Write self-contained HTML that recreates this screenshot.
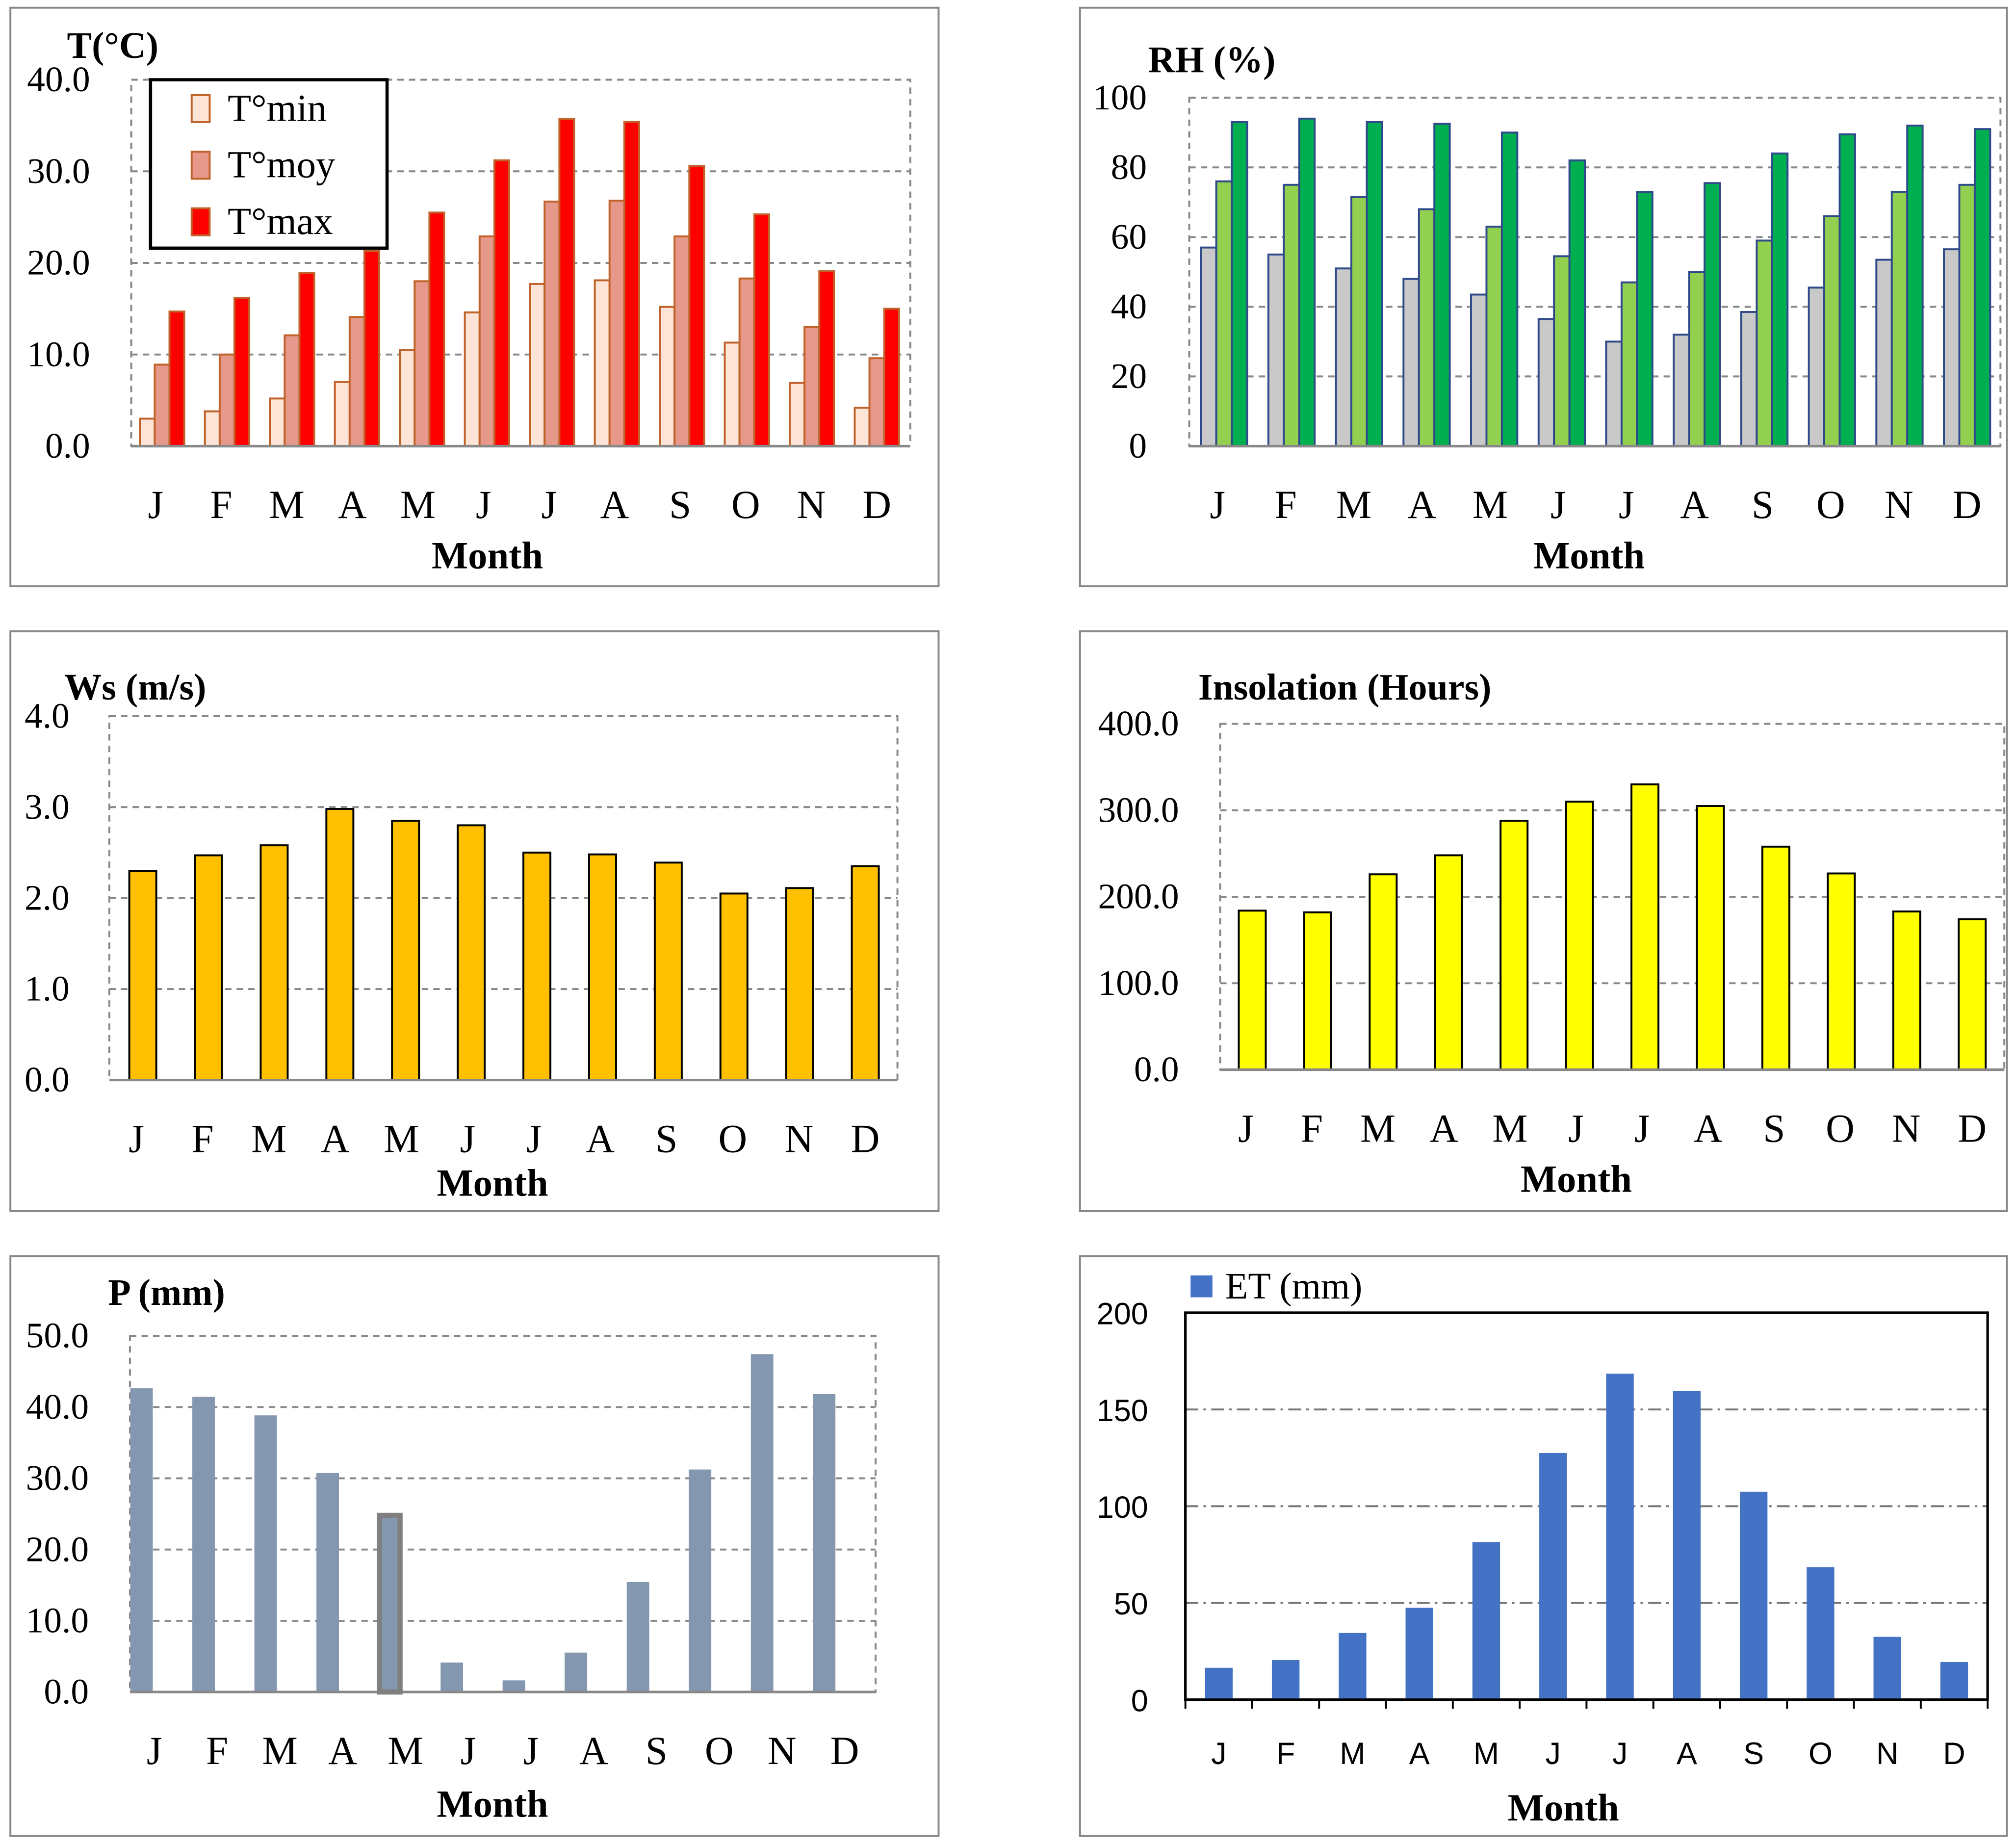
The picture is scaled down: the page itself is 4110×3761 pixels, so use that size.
<!DOCTYPE html>
<html><head><meta charset="utf-8"><style>
html,body{margin:0;padding:0;background:#fff}
svg{display:block}
text{font-family:"Liberation Serif",serif}
</style></head><body>
<svg id="s" width="4110" height="3761" viewBox="0 0 1568 1435" xmlns="http://www.w3.org/2000/svg"></svg>
<script>
const months=["J","F","M","A","M","J","J","A","S","O","N","D"];
const tMin=[3.0,3.8,5.2,7.0,10.5,14.6,17.7,18.1,15.2,11.3,6.9,4.2];
const tMoy=[8.9,10.0,12.1,14.1,18.0,22.9,26.7,26.8,22.9,18.3,13.0,9.6];
const tMax=[14.7,16.2,18.9,21.3,25.5,31.2,35.7,35.4,30.6,25.3,19.1,15.0];
const tTicks=["0.0","10.0","20.0","30.0","40.0"];
const rhMin=[57,55,51,48,43.5,36.5,30,32,38.5,45.5,53.5,56.5];
const rhMoy=[76,75,71.5,68,63,54.5,47,50,59,66,73,75];
const rhMax=[93,94,93,92.5,90,82,73,75.5,84,89.5,92,91];
const rhTicks=["0","20","40","60","80","100"];
const ws=[2.3,2.47,2.58,2.98,2.85,2.8,2.5,2.48,2.39,2.05,2.11,2.35];
const wsTicks=["0.0","1.0","2.0","3.0","4.0"];
const ins=[184,182,226,248,288,310,330,305,258,227,183,174];
const insTicks=["0.0","100.0","200.0","300.0","400.0"];
const prec=[42.5,41.3,38.7,30.6,24.8,4.0,1.5,5.4,15.3,31.1,47.3,41.7];
const pTicks=["0.0","10.0","20.0","30.0","40.0","50.0"];
const et=[16,20,34,47,81,127,168,159,107,68,32,19];
const etTicks=["0","50","100","150","200"];

const S=document.getElementById('s');
const NS="http://www.w3.org/2000/svg";
function el(tag,at,name,txt){const e=document.createElementNS(NS,tag);for(const k in at)e.setAttribute(k,at[k]);


if(txt!==undefined)e.textContent=txt;S.appendChild(e);return e;}

function panel(o){
 el('rect',{x:o.fx,y:o.fy,width:o.fw,height:o.fh,fill:'#fff',stroke:'#888','stroke-width':1.5},o.id+'-frame');
 const y=v=>o.y0-(v/o.max)*(o.y0-o.y1);
 const n=o.ticks.length;
 const sty=o.sans?'font-family:"Liberation Sans",sans-serif':'';
 for(let i=0;i<n;i++){const v=o.max*i/(n-1);const yy=y(v);
  if(i>0)el('line',{x1:o.x0,x2:o.x1,y1:yy,y2:yy,stroke:o.gridCol||'#888','stroke-width':1.5,'stroke-dasharray':o.dash||'5,4'},o.id+'-gridline');
  el('text',{x:o.tx,y:yy+9,'text-anchor':'end','font-size':o.tfs||28,style:sty},o.id+'-y-tick',o.ticks[i]);}
 if(o.box) el('rect',{x:o.x0,y:o.y1,width:o.x1-o.x0,height:o.y0-o.y1,fill:'none',stroke:o.boxCol||'#888','stroke-width':o.boxW||1.5,'stroke-dasharray':o.boxDash||'5,4'},o.id+'-plot-border');
 const step=(o.l1-o.l0)/11;
 const bstep=(o.b1-o.b0)/11;
 months.forEach((m,i)=>{const cx=o.l0+i*step;const bc=o.b0+i*bstep;
  el('text',{x:cx,y:o.ly,'text-anchor':'middle','font-size':o.lfs||31,style:sty},o.id+'-x-label',m);
  o.series.forEach((s,k)=>{const v=s.d[i];const bx=bc+(k-(o.series.length-1)/2)*o.bw-o.bw/2;
   el('rect',{x:bx,y:y(v),width:o.bw,height:o.y0-y(v),fill:s.c,stroke:s.sc,'stroke-width':s.sw||1.5},o.id+'-bar-'+s.n+'-'+i);});
 });
 if(o.ticksBelow){for(let i=0;i<=12;i++){const xx=o.l0-step/2+i*step;el('line',{x1:xx,x2:xx,y1:o.y0,y2:o.y0+7,stroke:'#000','stroke-width':1.5},o.id+'-x-tickmark');}}
 el('line',{x1:o.x0,x2:o.x1,y1:o.y0,y2:o.y0,stroke:o.axisCol||'#888','stroke-width':2},o.id+'-x-axis');
 el('text',{x:o.mx,y:o.my,'text-anchor':'middle','font-size':30,'font-weight':'bold'},o.id+'-x-title','Month');
 if(o.title)el('text',{x:o.ttx,y:o.tty,'font-size':29,'font-weight':'bold'},o.id+'-y-title',o.title);
}
panel({id:'temp',fx:8,fy:6,fw:722,fh:450,x0:102,x1:708,y0:347,y1:62,max:40,ticks:tTicks,tx:70,box:true,l0:121,l1:682,b0:126,b1:682,ly:403,bw:11.5,mx:379,my:442,title:'T(°C)',ttx:52,tty:45,
 series:[{d:tMin,c:'#fce4d6',sc:'#c0622a',n:'tmin'},{d:tMoy,c:'#e6998a',sc:'#c0622a',n:'tmoy'},{d:tMax,c:'#ff0000',sc:'#c0622a',n:'tmax'}]});
panel({id:'rh',fx:840,fy:6,fw:721,fh:450,x0:925,x1:1556,y0:347,y1:76,max:100,ticks:rhTicks,tx:892,box:true,l0:947,l1:1530,b0:952,b1:1530,ly:403,bw:12,mx:1236,my:442,title:'RH (%)',ttx:893,tty:56,
 series:[{d:rhMin,c:'#c9c9c9',sc:'#2f4a8a',n:'rhmin'},{d:rhMoy,c:'#92d050',sc:'#2f4a8a',n:'rhmoy'},{d:rhMax,c:'#00b050',sc:'#2f4a8a',n:'rhmax'}]});
panel({id:'ws',fx:8,fy:491,fw:722,fh:451,x0:85,x1:698,y0:840,y1:557,max:4,ticks:wsTicks,tx:54,box:true,l0:106,l1:673,b0:111,b1:673,ly:896,bw:21,mx:383,my:930,title:'Ws (m/s)',ttx:50,tty:544,
 series:[{d:ws,c:'#ffc000',sc:'#000',n:'ws'}]});
panel({id:'ins',fx:840,fy:491,fw:721,fh:451,x0:949,x1:1559,y0:832,y1:563,max:400,ticks:insTicks,tx:917,box:true,l0:969,l1:1534,b0:974,b1:1534,ly:888,bw:21,mx:1226,my:927,title:'Insolation (Hours)',ttx:932,tty:544,
 series:[{d:ins,c:'#ffff00',sc:'#000',n:'ins'}]});
panel({id:'p',fx:8,fy:977,fw:722,fh:451,x0:101,x1:681,y0:1316,y1:1039,max:50,ticks:pTicks,tx:69,box:true,l0:120,l1:657,b0:110,b1:641,ly:1372,bw:16,mx:383,my:1413,title:'P (mm)',ttx:84,tty:1015,
 series:[{d:prec,c:'#8497b0',sc:'#8497b0',n:'p'}]});
panel({id:'et',fx:840,fy:977,fw:721,fh:451,x0:922,x1:1546,y0:1322,y1:1021,max:200,ticks:etTicks,tx:893,box:true,boxCol:'#000',boxW:2,boxDash:'none',dash:'10,4,2,4',gridCol:'#777',axisCol:'#000',ticksBelow:true,sans:true,tfs:24,lfs:24,l0:948,l1:1520,b0:948,b1:1520,ly:1372,bw:20,mx:1216,my:1416,
 series:[{d:et,c:'#4472c4',sc:'#4472c4',n:'et'}]});
(function(){const bstep=(641-110)/11;const cx=110+4*bstep;const yy=1316-(prec[4]/50)*(1316-1039);
 el('rect',{x:cx-8,y:yy,width:16,height:1316-yy,fill:'none',stroke:'#7f7f7f','stroke-width':4},'p-bar-may-highlight');})();
el('rect',{x:117,y:62,width:184,height:131,fill:'#fff',stroke:'#000','stroke-width':2.5},'temp-legend');
[['T°min','#fce4d6'],['T°moy','#e6998a'],['T°max','#ff0000']].forEach((e,i)=>{
 el('rect',{x:149,y:74+i*44,width:14,height:21,fill:e[1],stroke:'#c0622a','stroke-width':1.5},'temp-legend-swatch');
 el('text',{x:177,y:94+i*44,'font-size':30},'temp-legend-entry',e[0]);});
el('rect',{x:926,y:992,width:17,height:17,fill:'#4472c4'},'et-legend-swatch');
el('text',{x:953,y:1010,'font-size':29},'et-legend-entry','ET (mm)');
</script>
</body></html>
